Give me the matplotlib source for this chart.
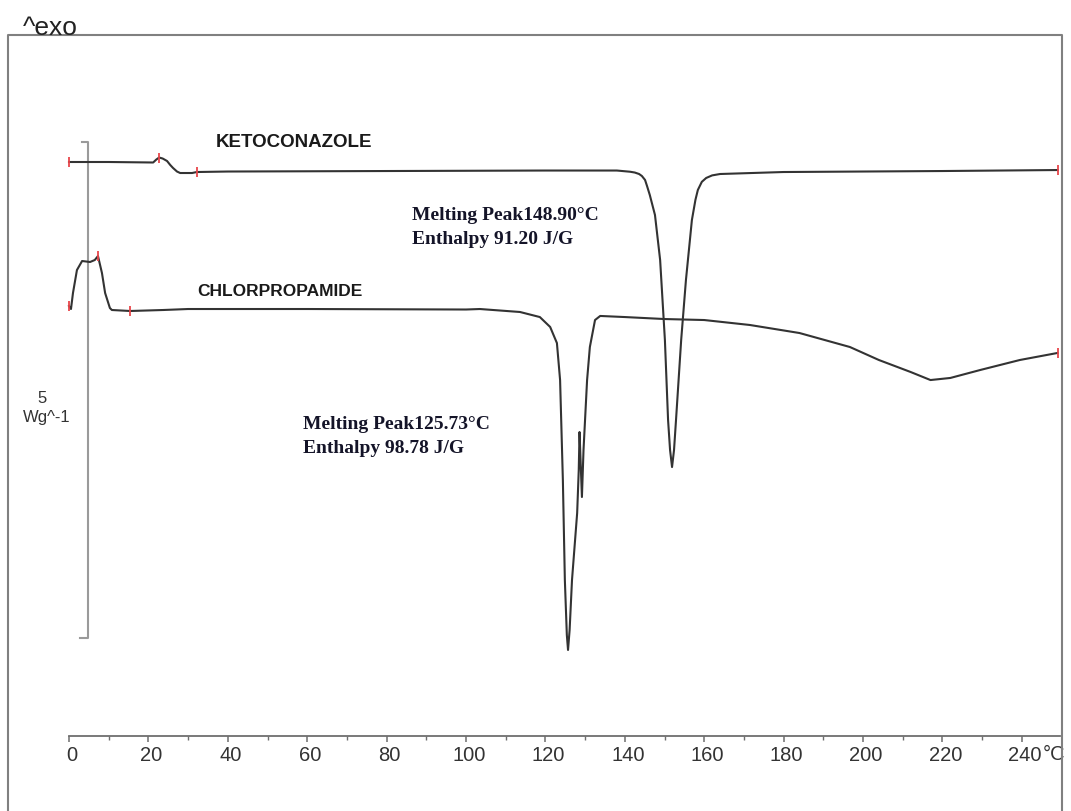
import numpy as np
import matplotlib
matplotlib.use("Agg")
import matplotlib.pyplot as plt
from matplotlib.lines import Line2D
from matplotlib.transforms import ScaledTranslation

# ---------------- data (temperature in degC, heat flow in W/g, curves offset) ----------------
keto_T = [0, 10, 21.2, 22.0, 22.7, 23.6, 24.7, 25.5, 26.2, 27.2, 28, 31, 32.2, 40, 80, 120,
          138, 141.3, 142.5, 143.6, 144.3, 145.1, 145.6, 146.3, 147.6, 148.9, 150.1, 150.9,
          151.4, 151.9, 152.4, 152.9, 154.2, 155.4, 156.9, 157.8, 158.4, 159.4, 160.5, 162,
          164, 180, 220, 249]
keto_W = [0.000, 0.000, -0.005, 0.025, 0.045, 0.035, 0.010, -0.030, -0.060, -0.096, -0.111,
          -0.111, -0.101, -0.096, -0.091, -0.086,
          -0.086, -0.098, -0.106, -0.121, -0.141, -0.181, -0.242, -0.333, -0.534, -0.988,
          -1.794, -2.601, -2.903, -3.075, -2.903, -2.601, -1.794, -1.190, -0.585, -0.380,
          -0.282, -0.200, -0.161, -0.135, -0.121, -0.101, -0.091, -0.081]

chlor_T = [0, 0.5, 1, 2, 3.3, 5.3, 6.5, 7.3, 8.3, 9.1, 10.3, 10.8, 15.4, 23.7, 30, 60, 100,
           103.5, 113.6, 118.6, 121.2, 122.9, 123.7, 124.4, 124.9, 125.4, 125.7, 126.1, 126.7,
           128.0, 128.4, 128.6, 128.9, 129.2, 129.6, 130.5, 131.2, 132.5, 133.8, 140, 150, 160,
           171.5, 184, 196.7, 204, 212, 217, 222, 229.5, 239.5, 249]
chlor_W = [-1.452, -1.482, -1.321, -1.089, -0.998, -1.008, -0.988, -0.948, -1.119, -1.321,
           -1.472, -1.492, -1.502, -1.492, -1.482, -1.482, -1.487,
           -1.482, -1.512, -1.563, -1.663, -1.825, -2.198, -3.206, -4.214, -4.768, -4.919,
           -4.718, -4.214, -3.538, -3.105, -2.722, -3.054, -3.377, -2.903, -2.198, -1.865,
           -1.593, -1.552, -1.563, -1.583, -1.593, -1.643, -1.724, -1.865, -1.996, -2.117,
           -2.198, -2.177, -2.097, -1.996, -1.925]

keto_marks_T = [0, 22.7, 32.2, 249]
chlor_marks_T = [0, 7.3, 15.4, 249]

x_major = list(range(0, 241, 20))
x_labels = [str(v) for v in x_major]
x_minor = list(range(10, 250, 20))

curve_names = ["KETOCONAZOLE", "CHLORPROPAMIDE"]
keto_notes = ["Melting Peak148.90°C", "Enthalpy 91.20 J/G"]
chlor_notes = ["Melting Peak125.73°C", "Enthalpy 98.78 J/G"]
scale_value = 5
scale_unit = "Wg^-1"

# ---------------- figure ----------------
W, H = 1071, 811
fig = plt.figure(figsize=(W / 100, H / 100), dpi=100)
ax = fig.add_axes([0, 0, 1, 1])
px_per_C = 3.97
x0_px = 69
ax.set_xlim(-x0_px / px_per_C, (W - x0_px) / px_per_C)
px_per_W = 99.2
ref_py = 162
ax.set_ylim((ref_py - H) / px_per_W, ref_py / px_per_W)

line_col = "#333333"
ax.plot(keto_T, keto_W, color=line_col, lw=1.5, solid_joinstyle="round", zorder=3)
ax.plot(chlor_T, chlor_W, color=line_col, lw=1.5, solid_joinstyle="round", zorder=3)

ax.plot(keto_marks_T, np.interp(keto_marks_T, keto_T, keto_W), ls="none", marker="|",
        ms=7, mew=1.3, color="#e8454a", zorder=4)
ax.plot(chlor_marks_T, np.interp(chlor_marks_T, chlor_T, chlor_W), ls="none", marker="|",
        ms=7, mew=1.3, color="#e8454a", zorder=4)

# axis
for s in ["left", "right", "top"]:
    ax.spines[s].set_visible(False)
axis_y = (ref_py - 736) / px_per_W
ax.spines["bottom"].set_position(("data", axis_y))
ax.spines["bottom"].set_bounds(0, 249.6)
ax.spines["bottom"].set_color("#6e6e6e")
ax.spines["bottom"].set_linewidth(1.3)
ax.set_xticks(x_major)
ax.set_xticklabels(x_labels)
ax.set_xticks(x_minor, minor=True)
ax.tick_params(axis="x", which="major", direction="out", length=4, width=1.1,
               color="#6e6e6e", pad=3, labelsize=14.5, labelcolor="#333333")
ax.tick_params(axis="x", which="minor", direction="out", length=3, width=1.0, color="#6e6e6e")
ax.set_yticks([])
off = ScaledTranslation(3 / 100, 0, fig.dpi_scale_trans)
for lab in ax.get_xticklabels():
    lab.set_fontfamily("Liberation Sans")
    lab.set_transform(lab.get_transform() + off)
ax.text(245.4, axis_y, "°C", transform=ax.transData + ScaledTranslation(0, -0.085, fig.dpi_scale_trans),
        fontsize=14.5, color="#333333", ha="left", va="top", family="Liberation Sans")

# scale bar
sb_x = 4.8
sb_top = 0.2
ax.plot([sb_x - 1.5, sb_x, sb_x, sb_x - 2.0], [sb_top, sb_top, sb_top - scale_value, sb_top - scale_value],
        color="#9a9a9a", lw=1.5, zorder=2)
ax.text(-6.8, -2.38, str(scale_value), fontsize=12, ha="center", va="center",
        family="Liberation Sans", color="#333333")
ax.text(-5.6, -2.58, scale_unit, fontsize=12, ha="center", va="center",
        family="Liberation Sans", color="#333333")

# curve names
ax.text(56.7, 0.192, curve_names[0], fontsize=13.5, fontweight="bold", ha="center", va="center",
        family="Liberation Sans", color="#1a1a1a")
ax.text(53.1, -1.310, curve_names[1], fontsize=12.5, fontweight="bold", ha="center", va="center",
        family="Liberation Sans", color="#1a1a1a")

# annotations
note_col = "#141428"
ax.text(86.4, -0.544, keto_notes[0], fontsize=14, fontweight="bold", ha="left", va="center",
        family="Liberation Serif", color=note_col)
ax.text(86.4, -0.786, keto_notes[1], fontsize=14, fontweight="bold", ha="left", va="center",
        family="Liberation Serif", color=note_col)
ax.text(58.9, -2.651, chlor_notes[0], fontsize=14, fontweight="bold", ha="left", va="center",
        family="Liberation Serif", color=note_col)
ax.text(58.9, -2.893, chlor_notes[1], fontsize=14, fontweight="bold", ha="left", va="center",
        family="Liberation Serif", color=note_col)

# outer frame (figure pixel coords)
def fx(px):
    return px / W

def fy(py):
    return 1 - py / H

frame_col = "#808080"
fig.add_artist(Line2D([fx(8), fx(8), fx(1062), fx(1062)], [fy(H), fy(35), fy(35), fy(H)],
                      color=frame_col, lw=1.5, transform=fig.transFigure))
fig.text(fx(23), fy(35), "^exo", fontsize=19, ha="left", va="baseline",
         family="Liberation Sans", color="#222222")

fig.savefig("out.png", dpi=100)
